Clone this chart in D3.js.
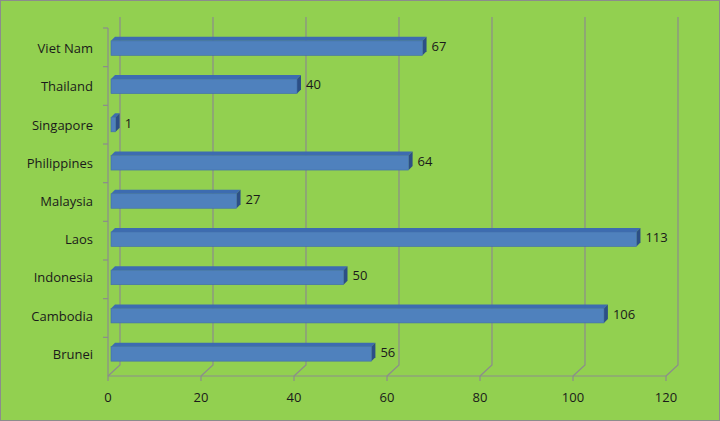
<!DOCTYPE html>
<html><head><meta charset="utf-8">
<script src="https://cdn.jsdelivr.net/npm/d3@7"></script>
<style>body{margin:0;background:#fff}</style>
</head><body>
<script>
// data
var countries = ["Brunei","Cambodia","Indonesia","Laos","Malaysia","Philippines","Singapore","Thailand","Viet Nam"]
var values = [56,106,50,113,27,64,1,40,67]
var xTicks = [0,20,40,60,80,100,120]

var W = 720, H = 421
var svg = d3.select("body").append("svg").attr("width", W).attr("height", H)
svg.append("rect").attr("x",0.5).attr("y",0.5).attr("width",W-1).attr("height",H-1)
    .attr("fill","#92d050").attr("stroke","#8c8c8c")

var depthX = 12, depthY = -11
var x = d3.scaleLinear().domain([0,120]).range([108,666])
var y = d3.scaleBand().domain(countries).range([373, 29]).paddingInner(0.62).paddingOuter(0.31)
var floorY = 376, topY = 17

// gridlines on back wall + floor diagonals
var grid = svg.append("g").attr("stroke","#8c8c8c").attr("stroke-width",1.2).attr("fill","none")
xTicks.forEach(function(t){
    var fx = x(t)
    grid.append("path").attr("d", `M${fx},${floorY} L${fx+depthX},${floorY+depthY} L${fx+depthX},${topY}`)
})
// left wall
grid.append("path").attr("d", `M${x(0)},${floorY} L${x(0)},${topY-depthY}`)
// floor front edge
grid.append("path").attr("d", `M${x(0)},${floorY} L${x(120)},${floorY}`)
// category ticks on left
countries.forEach(function(c,i){
    var ty = floorY - (i+1)*(floorY-(topY-depthY))/countries.length
    grid.append("path").attr("d", `M${x(0)-5},${ty} L${x(0)},${ty}`)
})
xTicks.forEach(function(t){
    grid.append("path").attr("d", `M${x(t)},${floorY} L${x(t)},${floorY+5}`)
})

// x axis labels
svg.append("g").selectAll("text").data(xTicks).join("text")
    .attr("x", d=>x(d)).attr("y", 402).attr("text-anchor","middle")
    .attr("font-family","Open Sans, sans-serif").attr("font-size",13).attr("fill","#1a1a1a")
    .text(d=>d)

// category labels
svg.append("g").selectAll("text").data(countries).join("text")
    .attr("x", 93).attr("y", d=>y(d)+y.bandwidth()/2+5).attr("text-anchor","end")
    .attr("font-family","Open Sans, sans-serif").attr("font-size",13).attr("fill","#1a1a1a")
    .text(d=>d)

// 3d bars
var bx0 = 111, bd = 4
var bx = d3.scaleLinear().domain([0,120]).range([bx0, bx0+120*4.65])
var bars = svg.append("g")
countries.forEach(function(c,i){
    var v = values[i], x1 = bx(v), yt = y(c), h = y.bandwidth()
    bars.append("path").attr("d", `M${bx0},${yt} L${bx0+bd},${yt-bd} L${x1+bd},${yt-bd} L${x1},${yt} Z`)
        .attr("fill","#3d6cb0")
    bars.append("path").attr("d", `M${x1},${yt} L${x1+bd},${yt-bd} L${x1+bd},${yt+h-bd} L${x1},${yt+h} Z`)
        .attr("fill","#2c4f86")
    bars.append("rect").attr("x",bx0).attr("y",yt).attr("width",x1-bx0).attr("height",h)
        .attr("fill","#4f81bd").attr("stroke","#416fa8").attr("stroke-width",0.6)
    bars.append("text").attr("x", x1+bd+5).attr("y", yt+h/2+3)
        .attr("font-family","Open Sans, sans-serif").attr("font-size",13).attr("fill","#1a1a1a")
        .text(v)
})
</script>
</body></html>
